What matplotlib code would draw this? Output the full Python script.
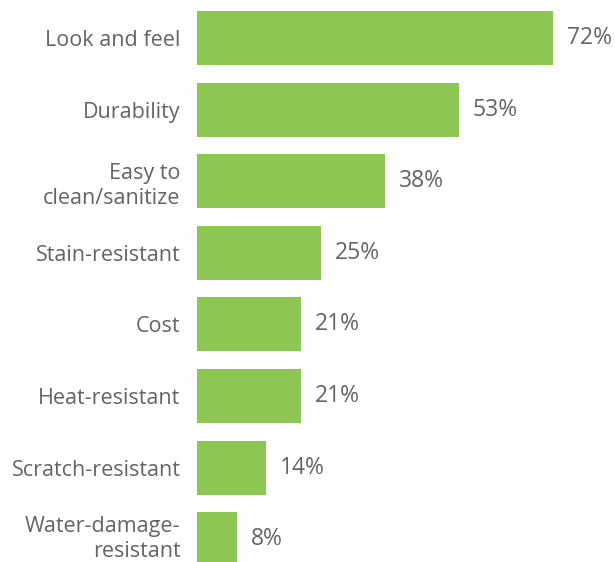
import matplotlib
matplotlib.use("Agg")
import matplotlib.pyplot as plt
import matplotlib.transforms as mtransforms

categories = ["Look and feel", "Durability", "Easy to\nclean/sanitize", "Stain-resistant",
              "Cost", "Heat-resistant", "Scratch-resistant", "Water-damage-\nresistant"]
values = [72, 53, 38, 25, 21, 21, 14, 8]
value_labels = ["72%", "53%", "38%", "25%", "21%", "21%", "14%", "8%"]

plt.rcParams['font.family'] = ['Open Sans', 'DejaVu Sans']
green = "#8DC753"
gray = "#646464"

fig = plt.figure(figsize=(6.15, 5.62), dpi=100)
ax = fig.add_axes([197/615, 0, 1 - 197/615, 1])
ypos = list(range(len(categories)))
ax.barh(ypos, values, height=0.755, color=green)
ax.set_xlim(0, (615 - 197) / 4.944)
ax.set_ylim(7.318, -0.531)
for s in ax.spines.values():
    s.set_visible(False)
ax.set_xticks([])
ax.set_yticks(ypos)
ax.set_yticklabels(categories, fontsize=15.5, color=gray, ha='right',
                   multialignment='right', linespacing=1.25)
ax.tick_params(axis='y', length=0, pad=12)
last = ax.get_yticklabels()[-1]
last.set_transform(last.get_transform() + mtransforms.ScaledTranslation(0, 5/100, fig.dpi_scale_trans))
for y, v, lab in zip(ypos, values, value_labels):
    ax.annotate(lab, (v, y), xytext=(10, 0), textcoords='offset points',
                va='center', ha='left', fontsize=16.5, color=gray)
fig.savefig("out.png", dpi=100)
